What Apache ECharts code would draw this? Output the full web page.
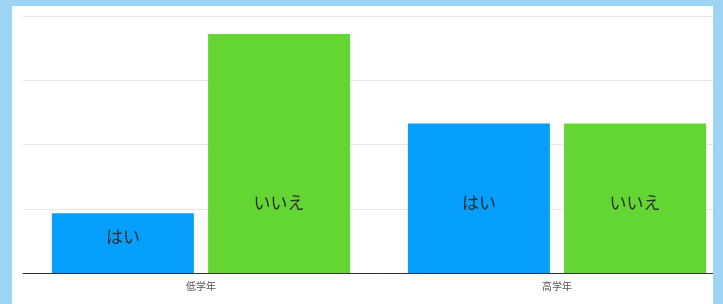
<!DOCTYPE html>
<html>
<head>
<meta charset="utf-8">
<script src="https://cdn.jsdelivr.net/npm/echarts@6/dist/echarts.min.js"></script>
<style>
  html, body { margin: 0; padding: 0; background: #9dd4f4; }
  #panel { position: absolute; left: 12px; top: 6px; width: 701px; height: 298px; background: #fff; overflow: hidden; }
  #chart { width: 730px; height: 298px; }
</style>
</head>
<body>
<div id="panel"><div id="chart"></div></div>
<script>
  // 学年ごとの回答
  var categories = ['低学年', '高学年'];
  var yesValues = [10, 25];
  var noValues = [40, 25];
  var yesName = 'はい';
  var noName = 'いいえ';

  var chart = echarts.init(document.getElementById('chart'));

  var labelStyle = {
    show: true,
    position: 'insideBottom',
    distance: 62,
    fontSize: 17,
    color: '#2e2e2e',
    fontFamily: 'Noto Sans CJK JP',
    formatter: '{a}'
  };

  // 低い棒はラベルを少し下へ
  var yesData = yesValues.map(function (v, i) {
    if (i === 0) {
      return { value: v, label: { distance: 28 } };
    }
    return v;
  });

  chart.setOption({
    animation: false,
    grid: { left: 11, right: 7, top: 10, bottom: 31 },
    xAxis: {
      type: 'category',
      data: categories,
      axisLine: { lineStyle: { color: '#333', width: 1 } },
      axisTick: { show: false },
      axisLabel: { color: '#555', fontSize: 10, margin: 8, fontFamily: 'Noto Sans CJK JP' }
    },
    yAxis: {
      type: 'value',
      min: 0,
      max: 43,
      interval: 10.75,
      axisLine: { show: false },
      axisTick: { show: false },
      axisLabel: { show: false },
      splitLine: { lineStyle: { color: '#e8e8e8', width: 1 } }
    },
    series: [
      {
        name: yesName,
        type: 'bar',
        data: yesData,
        barWidth: 142,
        barGap: '10%',
        itemStyle: { color: '#069ffb' },
        label: labelStyle
      },
      {
        name: noName,
        type: 'bar',
        data: noValues,
        barWidth: 142,
        itemStyle: { color: '#64d634' },
        label: labelStyle
      }
    ]
  });
</script>
</body>
</html>
